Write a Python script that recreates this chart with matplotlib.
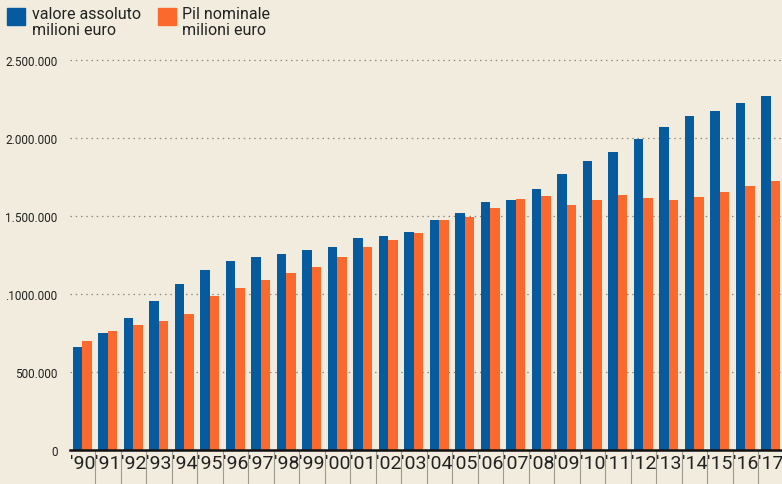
import matplotlib.pyplot as plt
from matplotlib.patches import Rectangle
import numpy as np

years = ["'90", "'91", "'92", "'93", "'94", "'95", "'96", "'97", "'98", "'99",
         "'00", "'01", "'02", "'03", "'04", "'05", "'06", "'07", "'08", "'09",
         "'10", "'11", "'12", "'13", "'14", "'15", "'16", "'17"]
valore_assoluto = [660000, 750000, 846000, 955000, 1064000, 1154000, 1212000, 1237000,
                   1256000, 1282000, 1301000, 1359000, 1372000, 1397000, 1474000, 1519000,
                   1590000, 1603000, 1670000, 1769000, 1853000, 1910000, 1994000, 2071000,
                   2141000, 2175000, 2224000, 2269000]
pil_nominale = [699000, 763000, 801000, 827000, 872000, 985000, 1038000, 1090000,
                1135000, 1173000, 1237000, 1301000, 1346000, 1391000, 1474000, 1494000,
                1551000, 1609000, 1630000, 1571000, 1603000, 1635000, 1615000, 1603000,
                1622000, 1654000, 1692000, 1724000]
ytick_vals = [0, 500000, 1000000, 1500000, 2000000, 2500000]
ytick_labels = ["0", "500.000", ".1000.000", "1.500.000", "2.000.000", "2.500.000"]

BG = "#f1ecdd"
BLUE = "#065a9e"
ORANGE = "#fb6a2c"

plt.rcParams['font.family'] = ['Roboto', 'DejaVu Sans']

fig = plt.figure(figsize=(7.82, 4.85), dpi=100, facecolor=BG)
ax = fig.add_axes([70 / 782, 1 - 451 / 485, 712 / 782, (451 - 61) / 485])
ax.set_facecolor(BG)

x = np.arange(len(years))
w = 0.365
ax.bar(x - w / 2, valore_assoluto, width=w, color=BLUE, zorder=3)
ax.bar(x + w / 2, pil_nominale, width=w, color=ORANGE, zorder=3)

ax.set_xlim(-0.482, 27.44)
ax.set_ylim(0, 2500000)

# dotted gridlines
for v in ytick_vals[1:]:
    ax.axhline(v, color="#8a8a80", linestyle=(0, (1.2, 3)), linewidth=0.9, zorder=1, clip_on=False)

ax.set_yticks(ytick_vals)
ax.set_yticklabels(ytick_labels, fontsize=8.5, color="#222222")
ax.tick_params(axis='y', length=0, pad=9)

ax.set_xticks(x)
ax.set_xticklabels(years, fontsize=14, color="#222222")
ax.set_xticks(x[:-1] + 0.5, minor=True)
ax.tick_params(axis='x', which='major', length=0, pad=3)
ax.tick_params(axis='x', which='minor', length=26, width=0.8, color="#9a9a90")

for s in ['top', 'right', 'left']:
    ax.spines[s].set_visible(False)
ax.spines['bottom'].set_linewidth(1.8)
ax.spines['bottom'].set_color("#111111")
ax.spines['bottom'].set_zorder(4)

# legend
H, W = 485, 782
fig.add_artist(Rectangle((7 / W, 1 - 26 / H), 18 / W, 17 / H, color=BLUE, transform=fig.transFigure))
fig.add_artist(Rectangle((158 / W, 1 - 26 / H), 18 / W, 17 / H, color=ORANGE, transform=fig.transFigure))
fig.text(32 / W, 1 - 7 / H, "valore assoluto\nmilioni euro", fontsize=11.5, va='top',
         linespacing=1.05, color="#222222")
fig.text(182 / W, 1 - 7 / H, "Pil nominale\nmilioni euro", fontsize=11.5, va='top',
         linespacing=1.05, color="#222222")

fig.savefig("out.png", dpi=100, facecolor=BG)
